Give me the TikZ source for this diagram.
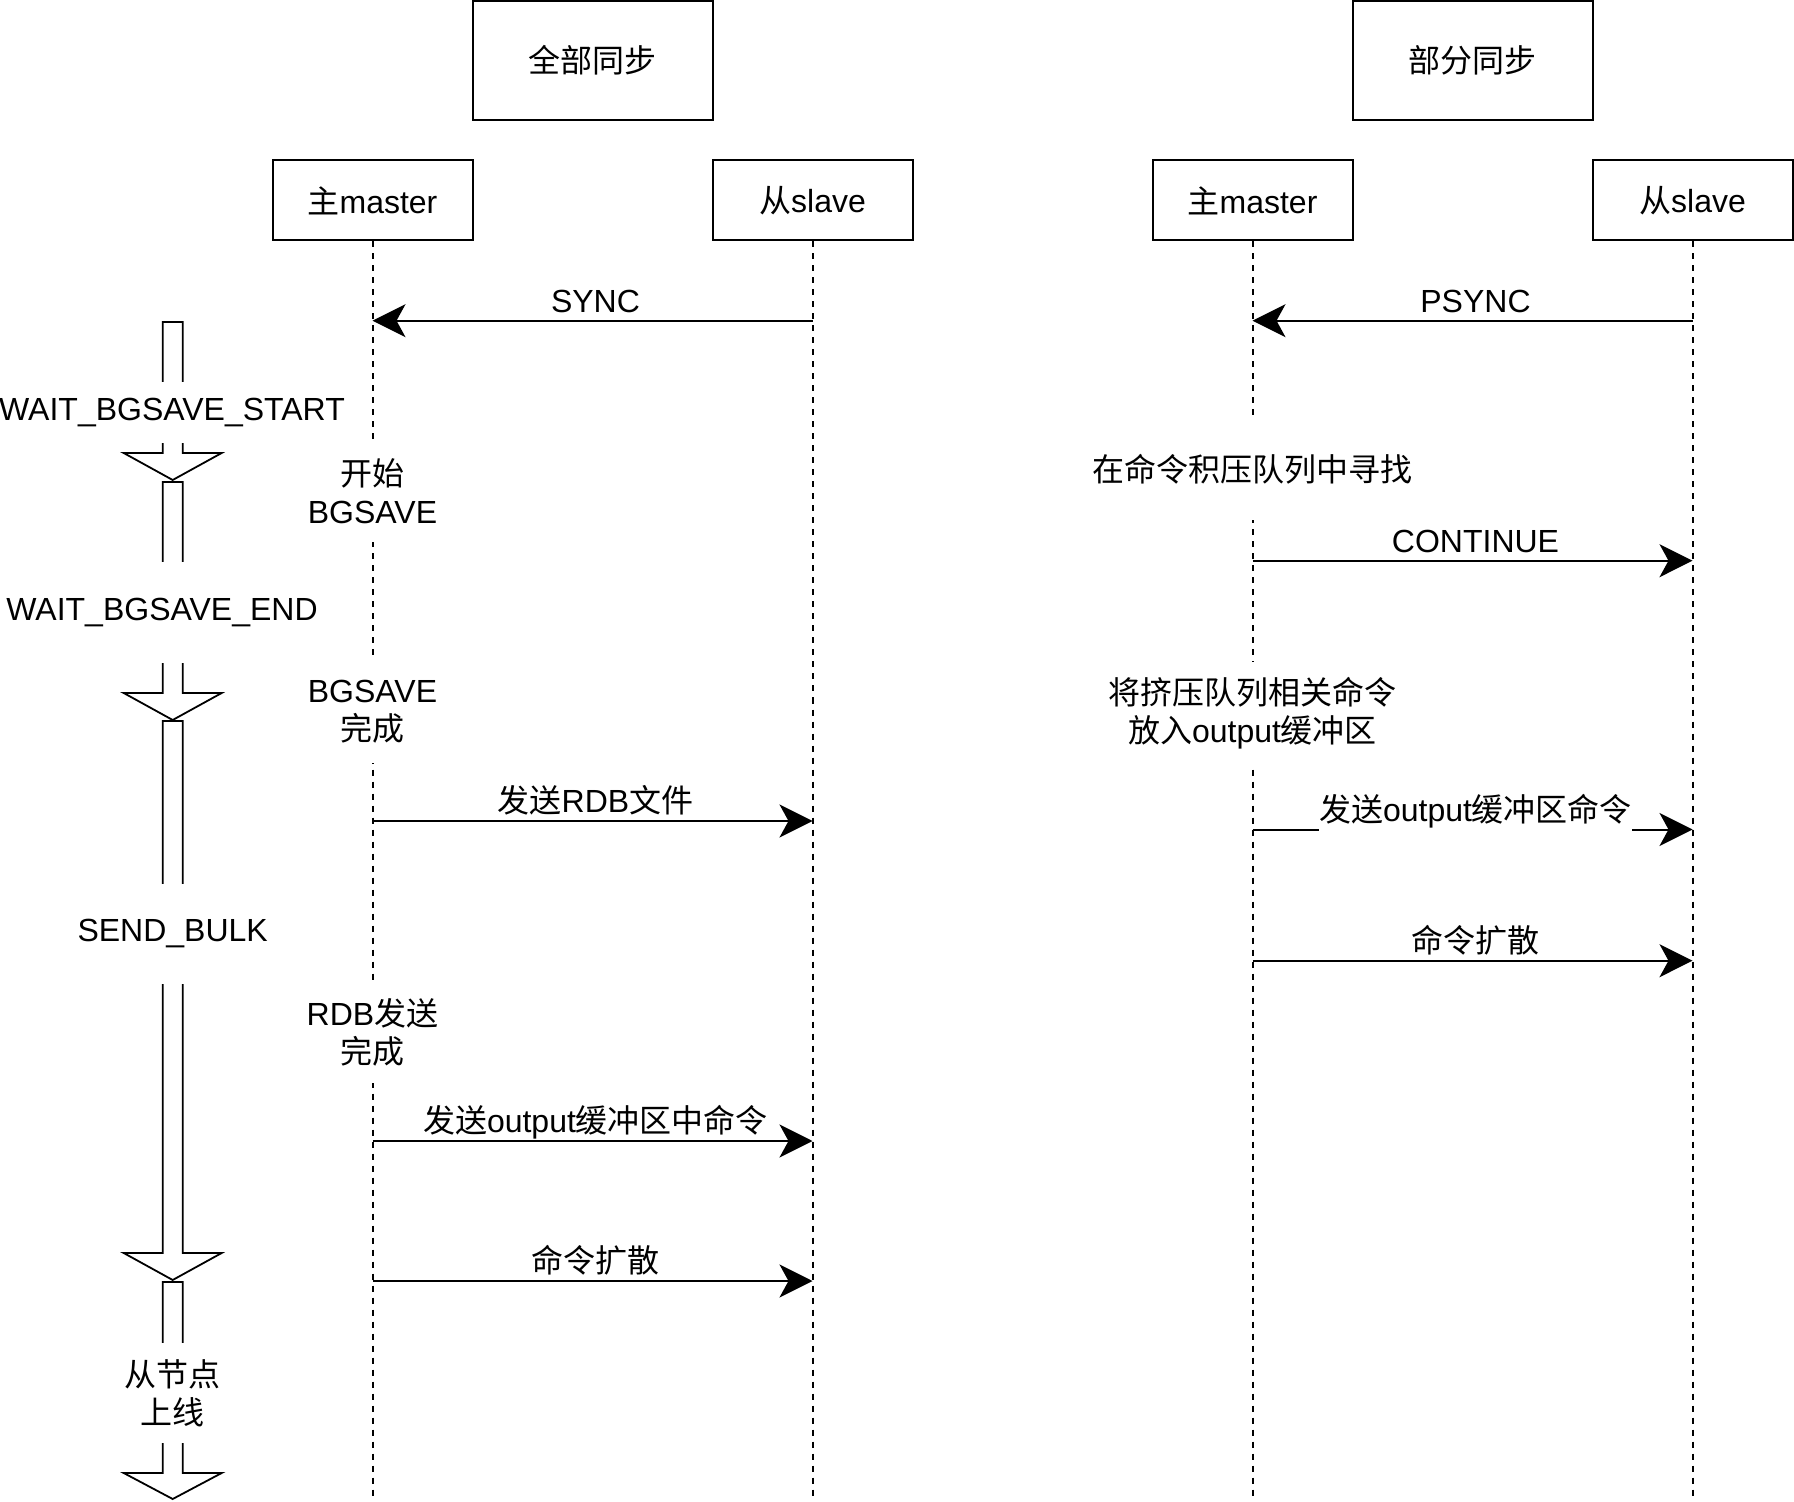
\documentclass[tikz,border=0pt]{standalone}
\usepackage{fontspec}
\setmainfont{Liberation Sans}
\newfontfamily\cjk{Noto Sans CJK SC}
\newcommand\zh[1]{{\cjk #1}}
\usetikzlibrary{arrows.meta}
\tikzset{
  txt/.style={font=\fontsize{16pt}{19pt}\selectfont, inner sep=0pt},
  hdr/.style={txt, draw, line width=1pt, minimum width=120pt, minimum height=59.5pt},
  actor/.style={txt, draw, line width=1pt, minimum width=100pt, minimum height=40pt},
  life/.style={line width=1pt, dash pattern=on 3pt off 3pt},
  msg/.style={line width=1pt, -{Stealth[length=16.5pt, width=16.5pt, inset=4.5pt]}},
  lbl/.style={txt, anchor=base, yshift=4.25pt, xshift=1.5pt},
  note/.style={txt, fill=white, align=center, minimum height=51pt},
  state/.style={txt, fill=white, align=center},
  blockline/.style={draw, fill=white, line width=0.9pt, line join=miter},
  pics/blk/.style n args={2}{code={
    \path[blockline] (-10,0) -- (-10,#1) -- (-49,#1) -- (0,#2) -- (49,#1) -- (10,#1) -- (10,0) -- cycle;
  }},
}
\begin{document}
\begin{tikzpicture}[x=0.5pt,y=-0.5pt]
\useasboundingbox (0,0) rectangle (1794,1502);

% headers
\node[hdr] (H1) at (592.6,60.5) {\zh{全部同步}};
\node[hdr] (H2) at (1472.5,60.5) {\zh{部分同步}};

% actors
\node[actor] (LM) at (372.5,200.5) {\zh{主}master};
\node[actor] (LS) at (812.5,200.5) {\zh{从}slave};
\node[actor] (RM) at (1252.5,200.5) {\zh{主}master};
\node[actor] (RS) at (1692.5,200.5) {\zh{从}slave};

% lifeline ends
\coordinate (LMe) at (372.5,1500);
\coordinate (LSe) at (812.5,1500);
\coordinate (RMe) at (1252.5,1500);
\coordinate (RSe) at (1692.5,1500);

\draw[life] (LM.south) -- (LMe);
\draw[life] (LS.south) -- (LSe);
\draw[life] (RM.south) -- (RMe);
\draw[life] (RS.south) -- (RSe);

% messages, full sync
\draw[msg] (LS.south |- 0,320.7) -- node[lbl] {SYNC} (LM.south |- 0,320.7);
\draw[msg] (LM.south |- 0,821) -- node[lbl] {\zh{发送}RDB\zh{文件}} (LS.south |- 0,821);
\draw[msg] (LM.south |- 0,1141) -- node[lbl] {\zh{发送}output\zh{缓冲区中命令}} (LS.south |- 0,1141);
\draw[msg] (LM.south |- 0,1281) -- node[lbl] {\zh{命令扩散}} (LS.south |- 0,1281);

% messages, partial sync
\draw[msg] (RS.south |- 0,320.7) -- node[lbl] {PSYNC} (RM.south |- 0,320.7);
\draw[msg] (RM.south |- 0,560.7) -- node[lbl] {CONTINUE} (RS.south |- 0,560.7);
\draw[msg] (RM.south |- 0,829.5) -- node[lbl, fill=white, text depth=5pt] {\zh{发送}output\zh{缓冲区命令}} (RS.south |- 0,829.5);
\draw[msg] (RM.south |- 0,960.7) -- node[lbl] {\zh{命令扩散}} (RS.south |- 0,960.7);

% notes on lifelines
\node[note] (n1) at (372.5,491) {\zh{开始}\\BGSAVE};
\node[note] (n2) at (372.5,712) {BGSAVE\\\zh{完成}};
\node[note] (n3) at (372.5,1032) {RDB\zh{发送}\\\zh{完成}};
\node[note] (n4) at (1252.5,469) {\zh{在命令积压队列中寻找}};
\node[note] (n5) at (1252.5,713) {\zh{将挤压队列相关命令}\\\zh{放入}output\zh{缓冲区}};

% state block arrows
\pic at (172.7,322) {blk={131}{158}};
\pic at (172.7,482) {blk={211}{238}};
\pic at (172.7,721) {blk={532}{559}};
\pic at (172.7,1282) {blk={191}{217}};

\node[state, minimum height=30.5pt] (s1) at (172,413) {WAIT\_BGSAVE\_START};
\node[state, minimum height=50.5pt] (s2) at (162,613) {WAIT\_BGSAVE\_END};
\node[state, minimum height=50pt] (s3) at (172.7,934) {SEND\_BULK};
\node[state, minimum height=50pt] (s4) at (172.7,1393) {\zh{从节点}\\\zh{上线}};
\end{tikzpicture}
\end{document}
